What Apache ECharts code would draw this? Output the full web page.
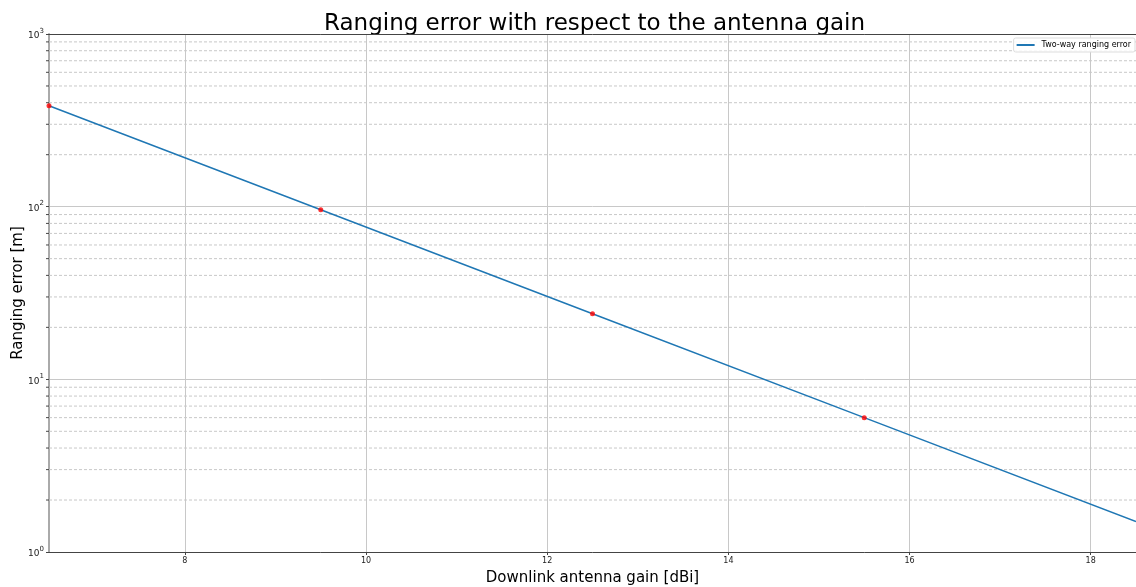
<!DOCTYPE html>
<html>
<head>
<meta charset="utf-8">
<script src="https://cdn.jsdelivr.net/npm/echarts@6/dist/echarts.min.js"></script>
<style>
html,body{margin:0;padding:0;background:#fff;}
#chart{width:1136px;height:587px;}
</style>
</head>
<body>
<div id="chart"></div>
<script>
// Downlink antenna gain [dBi] and the two-way ranging error [m]
const gains = [6.5, 9.5, 12.5, 15.5, 18.5];
const rangingError = [384, 96, 24, 6, 1.5];
// Highlighted operating points
const markerGains = [6.5, 9.5, 12.5, 15.5];
const markerErrors = [384, 96, 24, 6];
// Axis ticks
const xTicks = [8, 10, 12, 14, 16, 18];
const yMinor = [2,3,4,5,6,7,8,9,20,30,40,50,60,70,80,90,200,300,400,500,600,700,800,900];

const FONT = 'DejaVu Sans';
const chart = echarts.init(document.getElementById('chart'));

function pairs(xs, ys) { return xs.map((x, i) => [x, ys[i]]); }

chart.setOption({
  animation: false,
  textStyle: { fontFamily: FONT },
  title: {
    text: 'Ranging error with respect to the antenna gain',
    left: 319, top: 8,
    textStyle: { fontFamily: FONT, fontSize: 23, fontWeight: 'normal', color: '#000' }
  },
  legend: {
    right: 1, top: 38,
    itemWidth: 18, itemHeight: 2, itemGap: 4,
    padding: [3, 4, 3, 3],
    borderColor: '#ddd', borderWidth: 1, borderRadius: 2,
    backgroundColor: 'rgba(255,255,255,0.9)',
    textStyle: { fontFamily: FONT, fontSize: 8, color: '#000', padding: [0, 0, 0, 2] },
    data: [{ name: 'Two-way ranging error', icon: 'rect' }]
  },
  grid: { left: 49, right: 0, top: 34, bottom: 35, containLabel: false, outerBoundsMode: 'none' },
  xAxis: {
    type: 'value', min: 6.5, max: 18.5,
    name: 'Downlink antenna gain [dBi]', nameLocation: 'middle', nameGap: 19,
    nameTextStyle: { fontFamily: FONT, fontSize: 15, color: '#000' },
    axisLine: { lineStyle: { color: '#444', width: 1 } },
    axisTick: { show: true, length: 3, customValues: xTicks, lineStyle: { color: '#444' } },
    axisLabel: { customValues: xTicks, fontSize: 8, color: '#222', margin: 5 },
    splitLine: { show: true, lineStyle: { color: '#c8c8c8', width: 1 } }
  },
  yAxis: {
    type: 'log', logBase: 10, min: 1, max: 1000,
    name: 'Ranging error [m]', nameLocation: 'middle', nameGap: 23, nameRotate: 90,
    nameMoveOverlap: false,
    nameTextStyle: { fontFamily: FONT, fontSize: 15, color: '#000' },
    axisLine: { show: true, lineStyle: { color: '#aaa', width: 2 } },
    axisTick: { show: true, length: 3, lineStyle: { color: '#444' } },
    axisLabel: {
      margin: 5, color: '#222',
      formatter: v => '{b|10}{s|' + Math.round(Math.log10(v)) + '}',
      rich: {
        b: { fontSize: 9, fontFamily: FONT, color: '#222', verticalAlign: 'bottom', padding: [4, 0, 0, 0] },
        s: { fontSize: 7, fontFamily: FONT, color: '#222', verticalAlign: 'top', padding: [0, 0, 4, 0] }
      }
    },
    splitLine: { show: true, lineStyle: { color: '#c8c8c8', width: 1 } }
  },
  series: [
    {
      // minor gridlines and minor ticks on the log axis
      type: 'custom', silent: true, z: 1,
      data: yMinor.map(v => [6.5, v]),
      renderItem: (params, api) => {
        const p = api.coord([6.5, api.value(1)]);
        const cs = params.coordSys;
        return {
          type: 'group',
          children: [
            { type: 'line', shape: { x1: cs.x, y1: p[1], x2: cs.x + cs.width, y2: p[1] },
              style: { stroke: '#c8c8c8', lineWidth: 1, lineDash: [3, 2] } },
            { type: 'line', shape: { x1: cs.x - 3, y1: p[1], x2: cs.x, y2: p[1] },
              style: { stroke: '#444', lineWidth: 1 } }
          ]
        };
      }
    },
    {
      name: 'Two-way ranging error', type: 'line', z: 3,
      data: pairs(gains, rangingError),
      showSymbol: false, symbol: 'none',
      lineStyle: { color: '#1f77b4', width: 1.5 },
      itemStyle: { color: '#1f77b4' }
    },
    {
      type: 'scatter', z: 4,
      data: pairs(markerGains, markerErrors),
      symbol: 'circle', symbolSize: 5,
      itemStyle: { color: '#ff0000' }
    }
  ]
});

// top spine
chart.setOption({
  graphic: [{
    type: 'line', shape: { x1: 49, y1: 34.5, x2: 1136, y2: 34.5 },
    style: { stroke: '#444', lineWidth: 1 }, z: 10
  }]
});
</script>
</body>
</html>
